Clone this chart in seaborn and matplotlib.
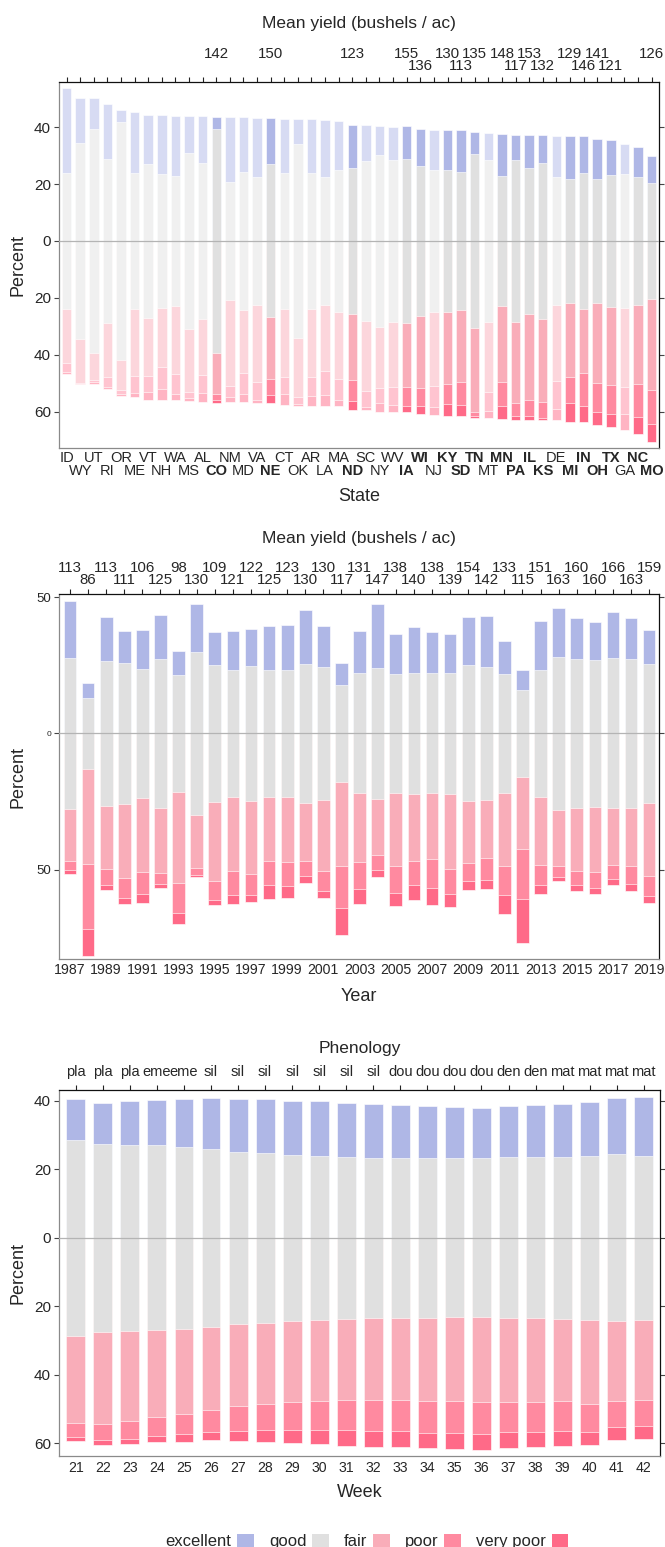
import numpy as np
import pandas as pd
import matplotlib
matplotlib.use('Agg')
import matplotlib.pyplot as plt
from matplotlib.patches import Patch
import seaborn as sns

sns.set_style('white')
plt.rcParams['font.family'] = ['Liberation Sans', 'DejaVu Sans']

W, H = 665, 1547

cat_names = ['excellent', 'good', 'fair', 'poor', 'very poor']
cat_colors = ['#AFB7E6', '#E0E0E0', '#F9ADB9', '#FF8AA0', '#FF6A88']

# ---- by state ----
states = ['ID', 'WY', 'UT', 'RI', 'OR', 'ME', 'VT', 'NH', 'WA', 'MS', 'AL', 'CO', 'NM', 'MD', 'VA',
          'NE', 'CT', 'OK', 'AR', 'LA', 'MA', 'ND', 'SC', 'NY', 'WV', 'IA', 'WI', 'NJ', 'KY', 'SD',
          'TN', 'MT', 'MN', 'PA', 'IL', 'KS', 'DE', 'MI', 'IN', 'OH', 'TX', 'GA', 'NC', 'MO']
state_exc = [30.2, 15.9, 10.9, 19.5, 4.0, 21.7, 17.2, 20.8, 21.3, 13.2, 16.4, 4.3, 22.9, 19.1, 20.9,
             16.5, 19.1, 8.7, 19.0, 20.1, 17.1, 15.4, 12.7, 10.2, 11.9, 11.6, 13.0, 14.1, 14.0, 14.6,
             7.6, 9.2, 14.8, 8.8, 11.6, 9.8, 14.6, 15.0, 12.9, 14.2, 12.3, 10.4, 10.6, 9.5]
state_good = [47.5, 68.9, 78.8, 57.4, 84.0, 47.6, 54.4, 47.1, 45.4, 61.7, 54.8, 78.7, 41.2, 48.8, 45.0,
              53.8, 47.6, 68.3, 47.6, 45.1, 50.2, 51.1, 56.1, 60.2, 56.7, 57.4, 53.0, 49.7, 49.9, 48.6,
              61.4, 57.2, 45.9, 57.2, 51.6, 54.6, 44.8, 43.9, 48.0, 43.4, 46.2, 47.2, 44.9, 40.9]
state_fair = [19.3, 15.4, 9.6, 19.2, 10.4, 23.7, 20.3, 20.9, 24.2, 22.4, 19.9, 14.5, 30.4, 22.1, 27.1,
              21.5, 24.2, 20.8, 23.9, 23.2, 23.5, 23.4, 24.7, 21.6, 22.9, 22.5, 25.1, 26.2, 25.4, 25.3,
              29.4, 24.6, 26.5, 28.5, 30.3, 29.5, 26.8, 25.9, 22.4, 28.4, 27.7, 27.6, 27.9, 32.0]
state_poor = [3.2, 0.3, 0.6, 3.3, 1.4, 6.0, 5.5, 7.7, 7.0, 2.1, 6.2, 2.2, 3.7, 7.4, 6.3,
              5.7, 5.8, 2.4, 6.8, 8.5, 7.3, 7.2, 5.6, 5.4, 6.6, 6.8, 6.4, 7.3, 7.0, 8.0,
              1.4, 6.7, 8.6, 4.4, 5.4, 5.5, 10.0, 9.3, 11.5, 10.2, 10.0, 9.6, 11.6, 11.9]
state_vpoor = [0.4, 0.2, 0.6, 0.9, 0.7, 1.4, 2.9, 3.8, 2.2, 0.8, 3.1, 0.8, 2.1, 2.9, 1.2,
               3.0, 3.8, 0.6, 3.4, 3.8, 2.3, 3.3, 1.1, 2.9, 2.3, 2.1, 2.8, 3.0, 4.2, 4.1,
               0.6, 2.4, 4.7, 1.5, 1.5, 0.7, 3.8, 6.4, 5.6, 4.3, 4.5, 5.6, 5.9, 6.4]
state_yield = [None, None, None, None, None, None, None, None, None, None, None, 142, None, None, None,
               150, None, None, None, None, None, 123, None, None, None, 155, 136, None, 130, 113,
               135, None, 148, 117, 153, 132, None, 129, 146, 141, 121, None, None, 126]
highlight = ['CO', 'NE', 'ND', 'IA', 'WI', 'KY', 'SD', 'TN', 'MN', 'PA', 'IL', 'KS',
             'MI', 'IN', 'OH', 'TX', 'NC', 'MO']

# ---- by year ----
years = [str(y) for y in range(1987, 2020)]
year_exc = [20.9, 5.3, 15.9, 11.7, 14.3, 16.1, 8.7, 17.5, 12.0, 14.3, 13.5, 15.9, 16.4, 19.8, 15.0,
            8.0, 15.5, 23.5, 14.7, 16.8, 15.0, 14.3, 17.9, 18.5, 12.1, 7.1, 17.8, 17.9, 14.9, 13.9,
            17.0, 14.8, 12.5]
year_good = [55.5, 26.0, 53.2, 51.6, 47.3, 54.5, 42.9, 59.6, 50.1, 46.7, 49.4, 46.8, 46.6, 50.9, 48.7,
             35.8, 44.1, 48.1, 43.7, 44.2, 44.0, 44.3, 49.8, 48.9, 43.8, 32.0, 46.8, 56.1, 54.7, 54.0,
             55.0, 54.7, 50.9]
year_fair = [19.1, 34.9, 23.2, 27.3, 27.4, 24.0, 33.5, 19.7, 29.2, 27.2, 26.9, 23.4, 24.0, 21.4, 26.1,
             30.8, 25.2, 20.5, 26.9, 24.6, 24.2, 27.5, 22.5, 21.3, 26.8, 26.4, 24.9, 20.7, 23.2, 24.0,
             20.8, 21.5, 26.8]
year_poor = [3.4, 23.9, 5.8, 7.3, 8.0, 4.2, 11.1, 2.5, 7.0, 8.8, 7.7, 8.7, 8.7, 5.5, 7.4,
             15.2, 9.9, 5.7, 9.9, 8.9, 10.5, 9.4, 6.6, 8.0, 10.5, 18.2, 7.3, 3.9, 5.1, 5.6,
             5.1, 6.5, 7.5]
year_vpoor = [1.3, 9.9, 1.7, 2.2, 3.1, 1.3, 3.8, 0.7, 1.8, 3.2, 2.6, 5.3, 4.4, 2.6, 2.7,
              10.2, 5.5, 2.4, 4.7, 5.5, 6.3, 4.6, 3.5, 3.3, 7.1, 16.3, 3.2, 1.4, 2.1, 2.4,
              2.1, 2.5, 2.6]
year_yield = [113, 86, 113, 111, 106, 125, 98, 130, 109, 121, 122, 125, 123, 130, 130,
              117, 131, 147, 138, 140, 138, 139, 154, 142, 133, 115, 151, 163, 160, 160,
              166, 163, 159]

# ---- by week ----
weeks = [str(w) for w in range(21, 43)]
phenology = ['pla', 'pla', 'pla', 'eme', 'eme', 'sil', 'sil', 'sil', 'sil', 'sil', 'sil',
             'sil', 'dou', 'dou', 'dou', 'dou', 'den', 'den', 'mat', 'mat', 'mat', 'mat']
week_exc = [12.0, 12.0, 12.7, 13.3, 14.1, 14.9, 15.3, 15.8, 15.8, 15.9, 15.8,
            15.8, 15.5, 15.2, 15.0, 14.8, 15.0, 15.2, 15.5, 15.6, 16.5, 17.2]
week_good = [57.2, 55.0, 54.5, 54.0, 53.1, 52.0, 50.4, 49.7, 48.6, 48.0, 47.3,
             46.7, 46.8, 46.7, 46.5, 46.5, 47.0, 47.0, 47.3, 47.9, 48.9, 48.1]
week_fair = [25.6, 27.0, 26.4, 25.5, 25.0, 24.4, 24.0, 23.8, 23.8, 23.8, 23.9,
             24.2, 24.1, 24.4, 24.5, 24.7, 24.4, 24.4, 24.1, 24.5, 23.3, 23.5]
week_poor = [4.1, 4.7, 5.1, 5.5, 5.9, 6.3, 7.3, 7.4, 8.1, 8.4, 8.7,
             9.0, 9.0, 9.2, 9.4, 9.5, 8.9, 8.9, 8.8, 8.2, 7.7, 7.6]
week_vpoor = [1.2, 1.3, 1.5, 1.8, 2.2, 2.5, 3.0, 3.7, 3.8, 4.0, 4.5,
              4.5, 4.6, 4.6, 4.7, 4.7, 4.6, 4.5, 4.4, 3.9, 3.7, 3.7]


def lighten(c, amt=0.5):
    r, g, b = matplotlib.colors.to_rgb(c)
    return (r + (1 - r) * amt, g + (1 - g) * amt, b + (1 - b) * amt)


def diverging_bars(ax, cats, exc, good, fair, poor, vpoor, strong):
    df = pd.DataFrame({'cat': cats, 'exc': exc, 'good': good, 'fair': fair,
                       'poor': poor, 'vpoor': vpoor})
    half = df['good'] / 2
    # drawn back to front, each bar starts at zero
    layers = [(-(half + df['fair'] + df['poor'] + df['vpoor']), 4),
              (-(half + df['fair'] + df['poor']), 3),
              (-(half + df['fair']), 2),
              (half + df['exc'], 0),
              (half, 1),
              (-half, 1)]
    for vals, ci in layers:
        pal = [cat_colors[ci] if s else lighten(cat_colors[ci]) for s in strong]
        sns.barplot(x=df['cat'], y=vals, order=cats, hue=df['cat'], hue_order=cats,
                    palette=pal, saturation=1, legend=False, width=0.7, errorbar=None,
                    ax=ax, edgecolor=(1, 1, 1, 0.7), linewidth=0.6)
    ax.axhline(0, color='#b4b4b4', lw=0.9, zorder=5)
    ax.set_xlabel('')
    ax.set_ylabel('')


def style_axes(ax, yticks, ysize=11):
    for side in ['left', 'bottom']:
        ax.spines[side].set_color('#8a8a8a')
    for side in ['top', 'right']:
        ax.spines[side].set_color('#111111')
    for sp in ax.spines.values():
        sp.set_linewidth(0.9)
    ax.tick_params(axis='x', bottom=False, top=True, labelbottom=False, labeltop=False,
                   length=3.8, width=0.8, color='#222222', direction='out')
    ax.tick_params(axis='y', left=True, right=True, labelleft=True, labelright=False,
                   length=3.8, width=0.8, color='#444444', direction='out', pad=2.2,
                   labelsize=ysize)
    ax.set_yticks(yticks)
    ax.set_yticklabels([str(abs(t)) for t in yticks])


def label_at(ax, x, yfrac, dy, s, **kw):
    ax.annotate(s, xy=(x, yfrac), xycoords=('data', 'axes fraction'), xytext=(0, dy),
                textcoords='offset pixels', ha='center', va='baseline',
                annotation_clip=False, **kw)


def centre_label(ax, yfrac, dy, s, size):
    ax.annotate(s, xy=(0.5, yfrac), xycoords='axes fraction', xytext=(0, dy),
                textcoords='offset pixels', ha='center', va='baseline', fontsize=size)


fig = plt.figure(figsize=(W / 100, H / 100), dpi=100)

def add_ax(left, top, right, bottom):
    return fig.add_axes([left / W, 1 - bottom / H, (right - left) / W, (bottom - top) / H])

# panel 1: states
ax1 = add_ax(59.3, 82.3, 659.3, 447.7)
diverging_bars(ax1, states, state_exc, state_good, state_fair, state_poor, state_vpoor,
               [s in highlight for s in states])
ax1.set_xlim(-0.54, 43.57)
ax1.set_ylim(-72.7, 55.8)
style_axes(ax1, [40, 20, 0, -20, -40, -60])
ax1.set_xticks(range(len(states)))
prev_i, prev_r = None, 1
for i, (s, yv) in enumerate(zip(states, state_yield)):
    weight = 'bold' if s in highlight else 'normal'
    label_at(ax1, i, 0, -14.3 if i % 2 == 0 else -27.3, s, fontsize=10.5, fontweight=weight)
    if yv is None:
        continue
    r = 1 if (prev_i is not None and i - prev_i == 1 and prev_r == 0) else 0
    label_at(ax1, i, 1, 24.6 if r == 0 else 12.3, str(yv), fontsize=10.8)
    prev_i, prev_r = i, r
centre_label(ax1, 1, 54.3, 'Mean yield (bushels / ac)', 12.5)
centre_label(ax1, 0, -53.3, 'State', 13)

# panel 2: years
ax2 = add_ax(59.3, 594.3, 659.3, 959.3)
diverging_bars(ax2, years, year_exc, year_good, year_fair, year_poor, year_vpoor,
               [True] * len(years))
ax2.set_xlim(-0.59, 32.56)
ax2.set_ylim(-82.9, 51.0)
style_axes(ax2, [50, 0, -50], ysize=9.5)
ax2.get_yticklabels()[1].set_fontsize(6)
ax2.set_xticks(range(len(years)))
for i, (yr, yv) in enumerate(zip(years, year_yield)):
    if i % 2 == 0:
        label_at(ax2, i, 0, -14.7, yr, fontsize=10.2)
    label_at(ax2, i, 1, 22.6 if i % 2 == 0 else 10.0, str(yv), fontsize=10.8)
centre_label(ax2, 1, 51.6, 'Mean yield (bushels / ac)', 12.5)
centre_label(ax2, 0, -41.4, 'Year', 13)

# panel 3: weeks
ax3 = add_ax(59.3, 1090, 660, 1455.7)
diverging_bars(ax3, weeks, week_exc, week_good, week_fair, week_poor, week_vpoor,
               [True] * len(weeks))
ax3.set_xlim(-0.61, 21.6)
ax3.set_ylim(-63.7, 43.2)
style_axes(ax3, [40, 20, 0, -20, -40, -60])
ax3.set_xticks(range(len(weeks)))
for i, (wk, ph) in enumerate(zip(weeks, phenology)):
    label_at(ax3, i, 0, -16.0, wk, fontsize=10.2)
    label_at(ax3, i, 1, 14.0, ph, fontsize=10.5)
centre_label(ax3, 1, 36.7, 'Phenology', 12.5)
centre_label(ax3, 0, -41.6, 'Week', 13)

for ax, yc in [(ax1, 265.0), (ax2, 776.8), (ax3, 1272.9)]:
    fig.text(18 / W, 1 - yc / H, 'Percent', rotation=90, ha='center', va='center', fontsize=13)

handles = [Patch(facecolor=c, edgecolor='none') for c in cat_colors]
fig.legend(handles, cat_names, loc='upper center', bbox_to_anchor=(367 / W, 1 - 1534 / H),
           ncol=5, frameon=False, markerfirst=False, fontsize=12, handlelength=1.0,
           handleheight=0.8, handletextpad=0.35, columnspacing=0.9, borderpad=0,
           borderaxespad=0)

fig.savefig('out.png', dpi=100)
